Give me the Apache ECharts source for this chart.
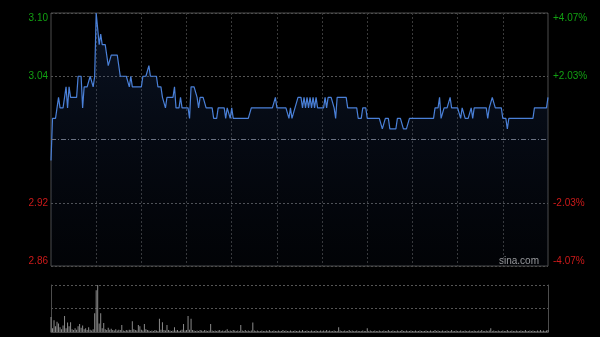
<!DOCTYPE html>
<html><head><meta charset="utf-8">
<script src="https://cdn.jsdelivr.net/npm/echarts@6/dist/echarts.min.js"></script>
<style>html,body{margin:0;padding:0;background:#000;}#c{width:600px;height:337px;}</style>
</head><body><div id="c"></div>
<script>
// ---- data ----
const prevClose = 2.98;
const priceMin = 2.86, priceMax = 3.10, priceStep = 0.06;
const leftTickLabels = ['2.86', '2.92', '', '3.04', '3.10'];
const rightTickLabels = ['-4.07%', '-2.03%', '', '+2.03%', '+4.07%'];
const watermark = 'sina.com';

const prices = [
  2.96,3.00,3.00,3.00,3.00,3.02,3.01,3.01,3.01,3.01,
  3.03,3.01,3.03,3.02,3.02,3.02,3.02,3.02,3.04,3.04,
  3.04,3.01,3.03,3.03,3.03,3.03,3.04,3.04,3.03,3.04,
  3.10,3.10,3.07,3.08,3.07,3.07,3.07,3.06,3.05,3.05,
  3.06,3.06,3.06,3.06,3.06,3.06,3.04,3.04,3.04,3.04,
  3.04,3.04,3.03,3.04,3.03,3.03,3.03,3.03,3.03,3.03,
  3.03,3.04,3.04,3.04,3.04,3.05,3.04,3.04,3.04,3.04,
  3.04,3.03,3.03,3.03,3.02,3.02,3.01,3.02,3.02,3.02,
  3.02,3.02,3.03,3.01,3.01,3.01,3.02,3.01,3.01,3.01,
  3.01,3.01,3.00,3.03,3.03,3.03,3.03,3.02,3.01,3.02,
  3.02,3.02,3.02,3.01,3.01,3.01,3.01,3.01,3.00,3.00,
  3.00,3.01,3.01,3.01,3.01,3.01,3.00,3.01,3.01,3.00,
  3.01,3.00,3.00,3.00,3.00,3.00,3.00,3.00,3.00,3.00,
  3.00,3.00,3.00,3.01,3.01,3.01,3.01,3.01,3.01,3.01,
  3.01,3.01,3.01,3.01,3.01,3.01,3.01,3.01,3.01,3.02,
  3.01,3.01,3.01,3.01,3.01,3.01,3.01,3.01,3.00,3.01,
  3.00,3.00,3.01,3.01,3.02,3.02,3.02,3.01,3.02,3.01,
  3.02,3.01,3.02,3.01,3.02,3.01,3.02,3.01,3.01,3.01,
  3.01,3.01,3.02,3.01,3.02,3.02,3.02,3.02,3.01,3.00,
  3.02,3.02,3.02,3.02,3.02,3.02,3.02,3.01,3.01,3.01,
  3.01,3.01,3.01,3.01,3.00,3.00,3.00,3.01,3.01,3.01,
  3.00,3.00,3.00,3.00,3.00,3.00,3.00,3.00,3.00,3.00,
  2.99,2.99,3.00,3.00,3.00,2.99,2.99,2.99,2.99,2.99,
  3.00,3.00,3.00,3.00,2.99,2.99,2.99,2.99,3.00,3.00,
  3.00,3.00,3.00,3.00,3.00,3.00,3.00,3.00,3.00,3.00,
  3.00,3.00,3.00,3.00,3.00,3.01,3.01,3.01,3.02,3.00,
  3.00,3.01,3.01,3.01,3.01,3.02,3.01,3.01,3.01,3.01,
  3.01,3.01,3.00,3.01,3.01,3.00,3.00,3.00,3.00,3.01,
  3.00,3.01,3.01,3.01,3.01,3.01,3.01,3.01,3.01,3.01,
  3.00,3.01,3.01,3.02,3.02,3.01,3.01,3.01,3.01,3.01,
  3.00,3.00,3.00,2.99,3.00,3.00,3.00,3.00,3.00,3.00,
  3.00,3.00,3.00,3.00,3.00,3.00,3.00,3.00,3.00,3.00,
  3.00,3.01,3.01,3.01,3.01,3.01,3.01,3.01,3.01,3.01,
  3.02
];

const volumes = [
  32,8,25,12,22,18,10,6,14,34,
  8,20,12,21,6,4,8,5,12,17,
  9,14,6,8,4,10,5,3,6,40,
  89,100,18,40,8,19,6,4,9,5,
  7,4,3,6,3,5,4,15,3,2,
  4,3,5,4,23,6,4,3,15,12,
  5,3,17,6,4,3,2,3,2,4,
  3,2,28,5,21,4,3,15,4,3,
  2,3,10,3,4,2,3,5,17,3,
  4,34,5,28,4,3,2,3,2,4,
  3,2,4,3,2,3,17,3,2,3,
  2,3,4,2,3,2,3,6,2,3,
  2,4,3,2,3,2,15,3,2,4,
  2,3,2,3,20,3,2,3,2,2,
  3,2,2,3,2,4,2,2,3,2,
  2,3,2,2,4,2,3,2,2,3,
  2,2,3,2,2,3,2,4,2,2,
  3,2,2,3,2,2,3,2,2,3,
  2,3,2,4,2,3,2,2,3,2,
  2,10,3,2,2,3,2,2,4,2,
  3,2,2,3,2,2,2,3,2,2,
  8,2,3,2,2,3,2,2,3,2,
  2,3,2,2,4,2,2,3,2,2,
  3,2,2,4,2,2,3,2,2,3,
  2,2,3,2,2,3,2,2,2,3,
  2,2,3,2,2,4,2,3,2,2,
  3,2,2,3,2,2,4,2,2,3,
  2,2,3,2,2,3,2,2,3,2,
  2,3,2,2,3,2,4,2,2,3,
  2,3,8,2,3,2,2,3,2,2,
  3,2,2,4,2,2,3,2,2,3,
  2,2,3,2,2,4,2,2,3,2,
  3,2,2,3,2,4,2,3,2,3,
  4
];

// minute categories for the trading session (09:30-12:00, 13:01-16:00)
const times = [];
for (let m = 9 * 60 + 30; m <= 12 * 60; m++) times.push(String(Math.floor(m / 60)).padStart(2, '0') + ':' + String(m % 60).padStart(2, '0'));
for (let m = 13 * 60 + 1; m <= 16 * 60; m++) times.push(String(Math.floor(m / 60)).padStart(2, '0') + ':' + String(m % 60).padStart(2, '0'));

// ---- chart ----
const green = '#12a012', red = '#cc1a1a';
const tickIndex = v => Math.round((v - priceMin) / priceStep);
const labelFont = { fontFamily: '"Liberation Sans", Arial, sans-serif', fontSize: 10 };

const chart = echarts.init(document.getElementById('c'), null, { renderer: 'canvas' });
chart.setOption({
  backgroundColor: '#000',
  animation: false,
  grid: [
    { left: 51, right: 52, top: 13, height: 253, show: true, borderColor: '#4d4d4d', borderWidth: 1, backgroundColor: 'transparent' },
    { left: 51, right: 52, top: 285, height: 47 }
  ],
  xAxis: [
    { type: 'category', gridIndex: 0, data: times, boundaryGap: false,
      axisLine: { show: false }, axisTick: { show: false }, axisLabel: { show: false },
      splitLine: { show: true, interval: (i) => i > 0 && i < times.length - 1 && i % 30 === 0,
        lineStyle: { color: '#3a3a3a', type: [2, 2], width: 1 } } },
    { type: 'category', gridIndex: 1, data: times, boundaryGap: false,
      axisLine: { show: true, lineStyle: { color: '#4d4d4d', width: 1 } },
      axisTick: { show: false }, axisLabel: { show: false }, splitLine: { show: false } }
  ],
  yAxis: [
    { type: 'value', gridIndex: 0, position: 'left', min: priceMin, max: priceMax, interval: priceStep,
      axisLine: { show: false }, axisTick: { show: false },
      axisLabel: Object.assign({ margin: 3, formatter: v => leftTickLabels[tickIndex(v)],
        color: v => (v > prevClose ? green : red),
        verticalAlignMaxLabel: 'top', verticalAlignMinLabel: 'bottom' }, labelFont),
      splitLine: { show: true, lineStyle: { color: ['#4d4d4d', '#555', 'rgba(0,0,0,0)', '#555', '#4d4d4d'], type: [2, 2], width: 1 } } },
    { type: 'value', gridIndex: 0, position: 'right', min: priceMin, max: priceMax, interval: priceStep,
      axisLine: { show: false }, axisTick: { show: false },
      axisLabel: Object.assign({ margin: 5, formatter: v => rightTickLabels[tickIndex(v)],
        color: v => (v > prevClose ? green : red),
        verticalAlignMaxLabel: 'top', verticalAlignMinLabel: 'bottom' }, labelFont),
      splitLine: { show: false } },
    { type: 'value', gridIndex: 1, position: 'left', min: 0, max: 100, interval: 50,
      axisLine: { show: true, lineStyle: { color: '#4d4d4d', width: 1 } }, axisTick: { show: false }, axisLabel: { show: false },
      splitLine: { show: true, lineStyle: { color: '#555', type: [2, 2], width: 1 } } },
    { type: 'value', gridIndex: 1, position: 'right', min: 0, max: 100, interval: 50,
      axisLine: { show: true, lineStyle: { color: '#4d4d4d', width: 1 } }, axisTick: { show: false }, axisLabel: { show: false },
      splitLine: { show: false } }
  ],
  series: [
    { type: 'line', xAxisIndex: 0, yAxisIndex: 0, data: prices, symbol: 'none', silent: true,
      lineStyle: { color: '#4a80d8', width: 1.2 },
      areaStyle: { color: new echarts.graphic.LinearGradient(0, 0, 0, 1, [
        { offset: 0, color: 'rgba(45,85,160,0.32)' },
        { offset: 1, color: 'rgba(25,45,90,0.10)' }
      ]) },
      markLine: { silent: true, symbol: 'none', label: { show: false },
        lineStyle: { color: '#6a7282', type: [5, 2, 1, 2], width: 1 },
        data: [{ yAxis: prevClose }] } },
    { type: 'bar', xAxisIndex: 1, yAxisIndex: 2, data: volumes, barWidth: 1, silent: true,
      itemStyle: { color: '#8a8a8a' } }
  ],
  graphic: [
    { type: 'text', left: 499, top: 256, silent: true,
      style: { text: watermark, fill: '#a0a0a0', font: '10px "Liberation Sans", Arial, sans-serif' } }
  ]
});
</script>
</body></html>
